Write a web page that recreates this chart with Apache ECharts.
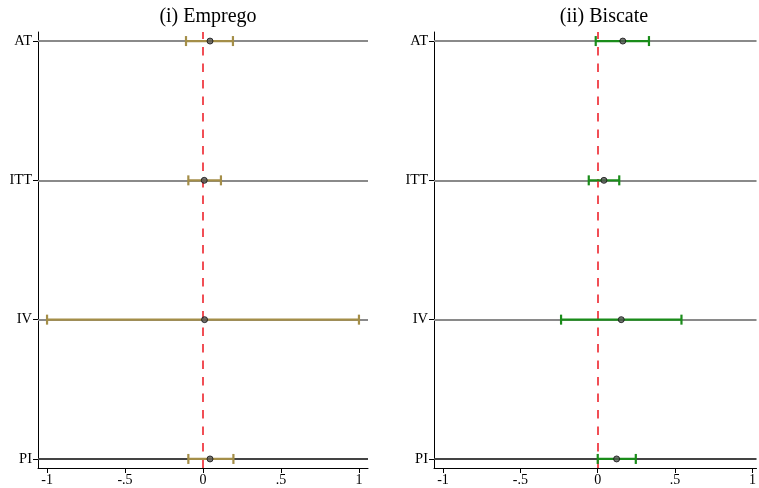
<!DOCTYPE html>
<html><head><meta charset="utf-8">
<script src="https://cdn.jsdelivr.net/npm/echarts@6/dist/echarts.min.js"></script>
<style>html,body{margin:0;padding:0;background:#fff}#c{width:759px;height:488px}</style>
</head><body><div id="c"></div>
<script>
const categories = ["AT", "ITT", "IV", "PI"];
const xTicks = [-1, -0.5, 0, 0.5, 1];
const xTickLabels = ["-1", "-.5", "0", ".5", "1"];
const titles = ["(i) Emprego", "(ii) Biscate"];
// Emprego
const empregoEst = [0.045, 0.008, 0.010, 0.045];
const empregoLow = [-0.109, -0.094, -1.0, -0.094];
const empregoHigh = [0.192, 0.115, 1.0, 0.195];
// Biscate
const biscateEst = [0.162, 0.040, 0.152, 0.122];
const biscateLow = [-0.013, -0.058, -0.237, 0.0];
const biscateHigh = [0.331, 0.139, 0.541, 0.246];

const yPos = categories.map((c, i) => categories.length - i);
const serif = "'Liberation Serif','DejaVu Serif',serif";
const panels = [
  {est: empregoEst, low: empregoLow, high: empregoHigh, color: '#a48e48', left: 38, width: 330, max: 1.058},
  {est: biscateEst, low: biscateLow, high: biscateHigh, color: '#1a8c1a', left: 434, width: 325, max: 1.026}
];

const chart = echarts.init(document.getElementById('c'), null, {renderer: 'canvas'});
const grid = [], xAxis = [], yAxis = [], series = [], title = [];
panels.forEach((p, k) => {
  grid.push({left: p.left, top: 32, width: p.width, height: 436, containLabel: false});
  title.push({text: titles[k], left: p.left + 165, top: 2, textAlign: 'center',
    textStyle: {fontFamily: serif, fontSize: 20, fontWeight: 'normal', color: '#000'}});
  xAxis.push({type: 'value', gridIndex: k, min: -1.058, max: p.max,
    axisLine: {show: true, onZero: false, lineStyle: {color: '#000', width: 1}},
    axisTick: {show: true, length: 5, customValues: xTicks, lineStyle: {color: '#000'}},
    axisLabel: {customValues: xTicks, fontFamily: serif, fontSize: 14, color: '#000', margin: 5,
      formatter: v => xTickLabels[xTicks.indexOf(v)] ?? ''},
    splitLine: {show: false}});
  yAxis.push({type: 'value', gridIndex: k, min: 0.935, max: 4.065,
    axisLine: {show: true, onZero: false, lineStyle: {color: '#000', width: 1}},
    axisTick: {show: true, length: 5, customValues: yPos, lineStyle: {color: '#000'}},
    axisLabel: {customValues: yPos, fontFamily: serif, fontSize: 14.5, color: '#000', margin: 6,
      formatter: v => categories[yPos.indexOf(v)] ?? ''},
    splitLine: {show: false}});
  // reference lines
  series.push({type: 'line', xAxisIndex: k, yAxisIndex: k, data: [], silent: true,
    markLine: {symbol: 'none', silent: true, label: {show: false}, animation: false,
      data: yPos.map((y, i) => ({yAxis: y, lineStyle: {color: i === yPos.length - 1 ? '#444' : '#8a8a8a', width: 2, type: 'solid'}}))
        .concat([{xAxis: 0, lineStyle: {color: '#f03c44', width: 1.8, type: [8.5, 8]}}])}});
  // error bars
  series.push({type: 'custom', xAxisIndex: k, yAxisIndex: k, z: 5,
    data: categories.map((c, i) => [p.low[i], p.high[i], yPos[i]]),
    renderItem: (params, api) => {
      const a = api.coord([api.value(0), api.value(2)]);
      const b = api.coord([api.value(1), api.value(2)]);
      const h = 5, st = {stroke: p.color, lineWidth: 2.2};
      return {type: 'group', children: [
        {type: 'line', shape: {x1: a[0], y1: a[1], x2: b[0], y2: b[1]}, style: st},
        {type: 'line', shape: {x1: a[0], y1: a[1] - h, x2: a[0], y2: a[1] + h}, style: st},
        {type: 'line', shape: {x1: b[0], y1: b[1] - h, x2: b[0], y2: b[1] + h}, style: st}
      ]};
    }, animation: false});
  // point estimates
  series.push({type: 'scatter', xAxisIndex: k, yAxisIndex: k, z: 6,
    data: categories.map((c, i) => [p.est[i], yPos[i]]),
    symbol: 'circle', symbolSize: 6,
    itemStyle: {color: '#555', borderColor: '#111', borderWidth: 1}, animation: false});
});
chart.setOption({animation: false, backgroundColor: '#fff', title, grid, xAxis, yAxis, series});
</script></body></html>
